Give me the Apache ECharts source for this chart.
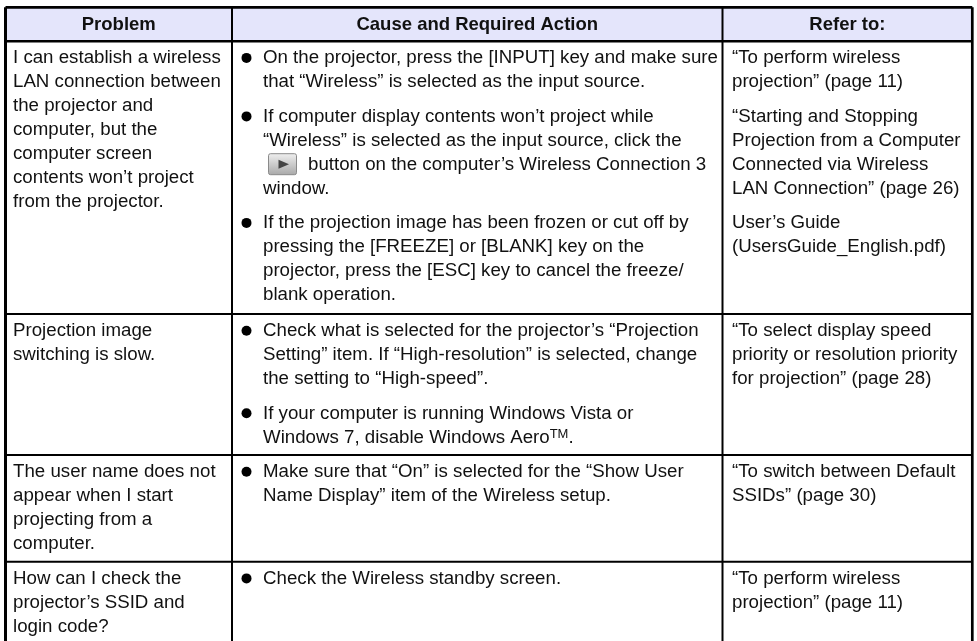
<!DOCTYPE html>
<html>
<head>
<meta charset="utf-8">
<title>Projection troubleshooting table</title>
<style>
html, body { margin: 0; padding: 0; background: #fff; }
#main { width: 977px; height: 641px; }
</style>
<script src="https://cdn.jsdelivr.net/npm/echarts@6/dist/echarts.min.js"></script>
</head>
<body>
<div id="main"></div>
<script>
// table content, one entry per row
const headers = ['Problem', 'Cause and Required Action', 'Refer to:'];

const problems = [
    ['I can establish a wireless', 'LAN connection between', 'the projector and', 'computer, but the', 'computer screen', 'contents won’t project', 'from the projector.'],
    ['Projection image', 'switching is slow.'],
    ['The user name does not', 'appear when I start', 'projecting from a', 'computer.'],
    ['How can I check the', 'projector’s SSID and', 'login code?']
];

const causes = [
    [
        ['On the projector, press the [INPUT] key and make sure', 'that “Wireless” is selected as the input source.'],
        ['If computer display contents won’t project while', '“Wireless” is selected as the input source, click the', 'button on the computer’s Wireless Connection 3', 'window.'],
        ['If the projection image has been frozen or cut off by', 'pressing the [FREEZE] or [BLANK] key on the', 'projector, press the [ESC] key to cancel the freeze/', 'blank operation.']
    ],
    [
        ['Check what is selected for the projector’s “Projection', 'Setting” item. If “High-resolution” is selected, change', 'the setting to “High-speed”.'],
        ['If your computer is running Windows Vista or', 'Windows 7, disable Windows Aero{sup|TM}.']
    ],
    [
        ['Make sure that “On” is selected for the “Show User', 'Name Display” item of the Wireless setup.']
    ],
    [
        ['Check the Wireless standby screen.']
    ]
];

const references = [
    [
        ['“To perform wireless', 'projection” (page 11)'],
        ['“Starting and Stopping', 'Projection from a Computer', 'Connected via Wireless', 'LAN Connection” (page 26)'],
        ['User’s Guide', '(UsersGuide_English.pdf)']
    ],
    [
        ['“To select display speed', 'priority or resolution priority', 'for projection” (page 28)']
    ],
    [
        ['“To switch between Default', 'SSIDs” (page 30)']
    ],
    [
        ['“To perform wireless', 'projection” (page 11)']
    ]
];

// layout of the grid, in page pixels
const W = 977, H = 641;
const colEdges = [5.5, 232, 722.5, 972.3];
const rowEdges = [7.3, 41.2, 314, 455, 561.7];
const textX = [13, 263, 732];
const bulletX = 246.5;
const lineHeight = 24;
const paraGap = 10.5;
const firstLine = 17;
const buttonLine = 'button on the computer’s Wireless Connection 3';
const FONT = '"Liberation Sans", Arial, sans-serif';
const FONT_SIZE = 18.7;
const HEADER_SIZE = 18.5;

// work out where every line of text goes
const textItems = [];
const bulletPoints = [];
let buttonPos = null;

function placeParagraphs(paragraphs, x, rowIdx, withBullet) {
    let y = rowEdges[rowIdx + 1] + firstLine;
    paragraphs.forEach(function (lines) {
        if (withBullet) bulletPoints.push([bulletX, y - 0.3]);
        lines.forEach(function (line) {
            let lineX = x;
            if (line === buttonLine) {
                buttonPos = [x, y];
                lineX = x + 45;
            }
            textItems.push({ value: [lineX, y], text: line });
            y += lineHeight;
        });
        y += paraGap;
    });
}

headers.forEach(function (h, i) {
    textItems.push({
        value: [(colEdges[i] + colEdges[i + 1]) / 2, (rowEdges[0] + rowEdges[1]) / 2 + 0.5],
        text: h,
        header: true
    });
});
problems.forEach(function (lines, r) { placeParagraphs([lines], textX[0], r, false); });
causes.forEach(function (paras, r) { placeParagraphs(paras, textX[1], r, true); });
references.forEach(function (paras, r) { placeParagraphs(paras, textX[2], r, false); });

// grid lines as [x1, y1, x2, y2, width]
const gridLines = [
    [colEdges[0], rowEdges[0], colEdges[0], H, 3],
    [colEdges[1], rowEdges[0], colEdges[1], H, 2],
    [colEdges[2], rowEdges[0], colEdges[2], H, 2],
    [colEdges[3], rowEdges[0], colEdges[3], H, 2.7],
    [colEdges[0], rowEdges[0], colEdges[3], rowEdges[0], 2.7],
    [colEdges[0], rowEdges[1], colEdges[3], rowEdges[1], 2.4],
    [colEdges[0], rowEdges[2], colEdges[3], rowEdges[2], 2],
    [colEdges[0], rowEdges[3], colEdges[3], rowEdges[3], 2],
    [colEdges[0], rowEdges[4], colEdges[3], rowEdges[4], 2]
];

const myChart = echarts.init(document.getElementById('main'), null, { renderer: 'canvas' });

const option = {
    animation: false,
    backgroundColor: '#ffffff',
    grid: { left: 0, right: 0, top: 0, bottom: 0 },
    xAxis: { type: 'value', min: 0, max: W, show: false },
    yAxis: { type: 'value', min: 0, max: H, inverse: true, show: false },
    series: [
        {
            // header band
            type: 'custom',
            silent: true,
            clip: false,
            data: [[colEdges[0], rowEdges[0], colEdges[3], rowEdges[1]]],
            renderItem: function (params, api) {
                const a = api.coord([api.value(0), api.value(1)]);
                const b = api.coord([api.value(2), api.value(3)]);
                return {
                    type: 'rect',
                    shape: { x: a[0], y: a[1], width: b[0] - a[0], height: b[1] - a[1] },
                    style: { fill: '#e4e5fb' }
                };
            }
        },
        {
            // table rules
            type: 'custom',
            silent: true,
            clip: false,
            data: gridLines,
            renderItem: function (params, api) {
                const a = api.coord([api.value(0), api.value(1)]);
                const b = api.coord([api.value(2), api.value(3)]);
                return {
                    type: 'line',
                    shape: { x1: a[0], y1: a[1], x2: b[0], y2: b[1] },
                    style: { stroke: '#000', lineWidth: api.value(4) }
                };
            }
        },
        {
            // bullets
            type: 'scatter',
            silent: true,
            symbol: 'circle',
            symbolSize: 10,
            itemStyle: { color: '#000', opacity: 1 },
            data: bulletPoints
        },
        {
            // the little play button in the middle of the second bullet
            type: 'custom',
            silent: true,
            clip: false,
            data: [buttonPos],
            renderItem: function (params, api) {
                const p = api.coord([api.value(0), api.value(1)]);
                return {
                    type: 'group',
                    children: [
                        {
                            type: 'rect',
                            shape: { x: p[0] + 5.5, y: p[1] - 11, width: 28, height: 21, r: 2 },
                            style: {
                                stroke: '#8a8a8a',
                                lineWidth: 1,
                                fill: new echarts.graphic.LinearGradient(0, 0, 0, 1, [
                                    { offset: 0, color: '#f0f0f0' },
                                    { offset: 1, color: '#a8a8a8' }
                                ])
                            }
                        },
                        {
                            type: 'polygon',
                            shape: { points: [[p[0] + 15.5, p[1] - 5], [p[0] + 26, p[1] - 0.5], [p[0] + 15.5, p[1] + 4]] },
                            style: { fill: '#454545' }
                        }
                    ]
                };
            }
        },
        {
            // all the cell text
            type: 'custom',
            silent: true,
            clip: false,
            data: textItems,
            renderItem: function (params, api) {
                const item = textItems[params.dataIndex];
                const p = api.coord([api.value(0), api.value(1)]);
                return {
                    type: 'text',
                    x: p[0],
                    y: p[1],
                    style: {
                        text: item.text,
                        fontFamily: FONT,
                        fontSize: item.header ? HEADER_SIZE : FONT_SIZE,
                        fontWeight: item.header ? 'bold' : 'normal',
                        fill: '#111',
                        align: item.header ? 'center' : 'left',
                        verticalAlign: 'middle',
                        rich: {
                            sup: { fontFamily: FONT, fontSize: 13, fill: '#111', padding: [0, 0, 6, 0] }
                        }
                    }
                };
            }
        }
    ]
};

myChart.setOption(option);

window.addEventListener('resize', function () {
    myChart.resize();
});
</script>
</body>
</html>
